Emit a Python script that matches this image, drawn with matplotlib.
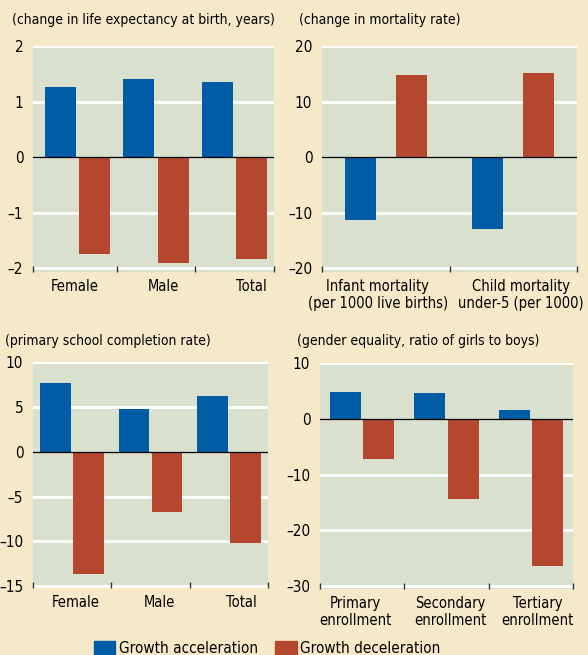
"""Growth accelerations vs decelerations: four-panel bar chart of social outcomes."""

import matplotlib
matplotlib.use("Agg")
import matplotlib.pyplot as plt
from matplotlib.patches import Patch
import numpy as np

plt.rcParams["font.family"] = ["DejaVu Sans"]
plt.rcParams["font.stretch"] = "condensed"

BG = "#f6e9c9"
PANEL = "#d9e0cd"
BLUE = "#005ca4"
RED = "#b5472f"

# panel data: (accel, decel) per category
LIFE_CATS = ["Female", "Male", "Total"]
LIFE_ACC = [1.27, 1.40, 1.35]
LIFE_DEC = [-1.75, -1.91, -1.83]

MORT_CATS = ["Infant mortality\n(per 1000 live births)", "Child mortality\nunder-5 (per 1000)"]
MORT_ACC = [-11.4, -12.9]
MORT_DEC = [14.7, 15.1]

SCHOOL_CATS = ["Female", "Male", "Total"]
SCHOOL_ACC = [7.7, 4.8, 6.2]
SCHOOL_DEC = [-13.6, -6.7, -10.2]

GENDER_CATS = ["Primary\nenrollment", "Secondary\nenrollment", "Tertiary\nenrollment"]
GENDER_ACC = [4.8, 4.6, 1.6]
GENDER_DEC = [-7.2, -14.3, -26.4]

W, H = 588, 655


def add_axes(fig, x0, y0, x1, y1):
    return fig.add_axes([x0 / W, 1 - y1 / H, (x1 - x0) / W, (y1 - y0) / H])


def panel(ax, cats, acc, dec, ylim, yticks, width, off, xlim=None, lab_off=None):
    n = len(cats)
    x = np.arange(n)
    xlim = xlim or (-0.5, n - 0.5)
    lab_off = lab_off or [0] * n
    ax.set_facecolor(PANEL)
    for t in yticks:
        if t != 0:
            ax.axhline(t, color="white", lw=2.2, zorder=1)
    ax.bar(x - off, acc, width, color=BLUE, zorder=2)
    ax.bar(x + off, dec, width, color=RED, zorder=2)
    ax.axhline(0, color="black", lw=0.9, zorder=3)
    ax.set_xlim(*xlim)
    ax.set_ylim(*ylim)
    ax.set_yticks(yticks)
    ax.set_yticklabels([str(t).replace("-", "\u2013") for t in yticks], fontsize=11)
    ax.set_xticks([xlim[0]] + list(np.arange(1, n) - 0.5) + [xlim[1]])
    ax.set_xticklabels([])
    ax.set_xticks(x + np.array(lab_off), minor=True)
    ax.set_xticklabels(cats, minor=True, fontsize=10.5, linespacing=1.15)
    ax.tick_params(axis="x", which="major", direction="in", length=4, width=1, color="#333333")
    ax.tick_params(axis="x", which="minor", length=0, pad=5)
    ax.tick_params(axis="y", length=0, pad=7)
    for s in ax.spines.values():
        s.set_visible(False)


fig = plt.figure(figsize=(W / 100, H / 100), dpi=100, facecolor=BG)

ax1 = add_axes(fig, 33, 46, 274, 272)
panel(ax1, LIFE_CATS, LIFE_ACC, LIFE_DEC, (-2.07, 2), [-2, -1, 0, 1, 2], 0.395, 0.217,
      xlim=(-0.567, 2.503), lab_off=[-0.03, 0.09, 0.21])
fig.text(12 / W, 1 - 20 / H, "(change in life expectancy at birth, years)", fontsize=10, va="center")

ax2 = add_axes(fig, 322, 46, 577, 272)
panel(ax2, MORT_CATS, MORT_ACC, MORT_DEC, (-20.7, 20), [-20, -10, 0, 10, 20], 0.24, 0.2,
      lab_off=[-0.064, 0.06])
fig.text(299 / W, 1 - 20 / H, "(change in mortality rate)", fontsize=10, va="center")

ax3 = add_axes(fig, 33, 362, 268, 588)
panel(ax3, SCHOOL_CATS, SCHOOL_ACC, SCHOOL_DEC, (-15.2, 10), [-15, -10, -5, 0, 5, 10], 0.394, 0.21,
      lab_off=[0.04, 0.11, 0.16])
fig.text(5 / W, 1 - 341 / H, "(primary school completion rate)", fontsize=10, va="center")

ax4 = add_axes(fig, 320, 363, 573, 589)
panel(ax4, GENDER_CATS, GENDER_ACC, GENDER_DEC, (-30.5, 10), [-30, -20, -10, 0, 10], 0.37, 0.197,
      lab_off=[-0.08, 0.05, 0.08])
fig.text(297 / W, 1 - 341 / H, "(gender equality, ratio of girls to boys)", fontsize=10, va="center")

handles = [Patch(color=BLUE, label="Growth acceleration"), Patch(color=RED, label="Growth deceleration")]
fig.legend(handles=handles, loc="upper left", bbox_to_anchor=(91 / W, 1 - 638 / H), ncol=2,
           frameon=False, fontsize=11, handlelength=1.4, handleheight=1.0, handletextpad=0.25,
           columnspacing=1.1, borderaxespad=0, borderpad=0.2)

fig.savefig("out.png", dpi=100, facecolor=BG)
